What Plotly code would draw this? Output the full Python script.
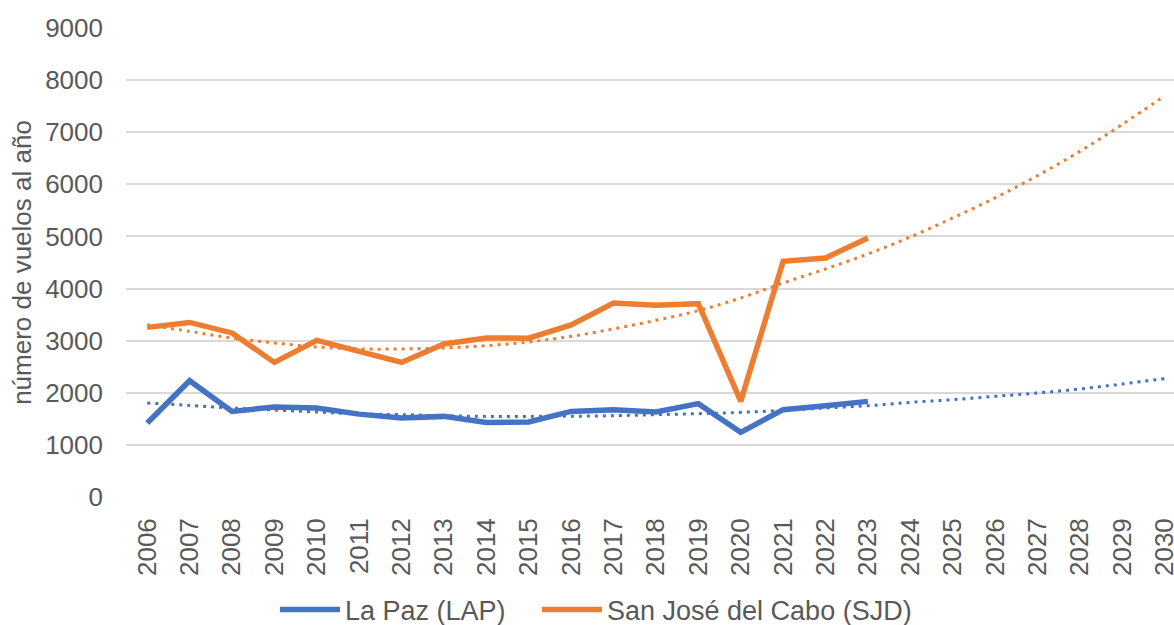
import plotly.graph_objects as go

years = [str(y) for y in range(2006, 2031)]
data_years = years[:18]  # 2006-2023

lap = [1420, 2232, 1643, 1727, 1708, 1590, 1516, 1547, 1432, 1440,
       1643, 1676, 1631, 1791, 1240, 1676, 1752, 1835]
sjd = [3255, 3350, 3148, 2583, 3006, 2790, 2583, 2937, 3052, 3048,
       3301, 3724, 3678, 3710, 1835, 4522, 4587, 4971]

# trend lines (polynomial trend as drawn in the picture), read per year
lap_trend = [1804, 1758, 1708, 1670, 1631, 1593, 1580, 1560, 1547, 1547,
             1550, 1560, 1580, 1599, 1624, 1662, 1708, 1752, 1816, 1868,
             1931, 1996, 2073, 2169, 2272]
sjd_trend = [3307, 3179, 3052, 2956, 2879, 2841, 2841, 2860, 2904, 2975,
             3083, 3225, 3390, 3576, 3820, 4107, 4376, 4664, 4990, 5355,
             5739, 6167, 6633, 7150, 7700]

names = ["La Paz (LAP)", "San José del Cabo (SJD)"]
colors = ["#4472C4", "#ED7D31"]
ytick_vals = list(range(0, 10000, 1000))
y_title = "número de vuelos al año"

FONT = "Liberation Sans, Arial, sans-serif"
GREY = "#595959"
FS = 26

fig = go.Figure()
fig.add_trace(go.Scatter(x=years, y=lap_trend, mode="lines", showlegend=False,
                         line=dict(color=colors[0], width=3, dash="3px,5px", shape="spline"),
                         hoverinfo="skip"))
fig.add_trace(go.Scatter(x=years, y=sjd_trend, mode="lines", showlegend=False,
                         line=dict(color=colors[1], width=3, dash="3px,5px", shape="spline"),
                         hoverinfo="skip"))
fig.add_trace(go.Scatter(x=data_years, y=lap, mode="lines", name=names[0],
                         legend="legend",
                         line=dict(color=colors[0], width=5.5)))
fig.add_trace(go.Scatter(x=data_years, y=sjd, mode="lines", name=names[1],
                         legend="legend2",
                         line=dict(color=colors[1], width=5.5)))

leg_common = dict(orientation="h", xref="container", yref="container",
                  y=0.024, xanchor="left", yanchor="middle",
                  font=dict(size=27, color=GREY), itemwidth=60,
                  bgcolor="rgba(0,0,0,0)")

fig.update_layout(
    width=1174, height=625,
    margin=dict(l=126, r=0, t=28, b=128, autoexpand=False),
    paper_bgcolor="white", plot_bgcolor="white",
    font=dict(family=FONT, size=FS, color=GREY),
    showlegend=True,
    legend=dict(x=0.2342, **leg_common),
    legend2=dict(x=0.4574, **leg_common),
    xaxis=dict(type="category", categoryorder="array", categoryarray=years,
               range=[-0.5, 24.22], tickangle=-90, showgrid=False,
               showline=False, zeroline=False, ticks="", automargin=False,
               tickfont=dict(size=FS, color=GREY), ticklabelstandoff=15),
    yaxis=dict(range=[0, 9000], tickvals=ytick_vals, showgrid=True,
               gridcolor="#D9D9D9", gridwidth=1.5, zeroline=False,
               showline=False, ticks="", ticklabelstandoff=22, automargin=False,
               tickfont=dict(size=FS, color=GREY),
               title=dict(text=y_title, font=dict(size=FS, color=GREY), standoff=6)),
)

fig.write_html("out.html", config={"displayModeBar": False},
               post_script="document.body.style.margin='0';document.body.style.overflow='hidden';")
